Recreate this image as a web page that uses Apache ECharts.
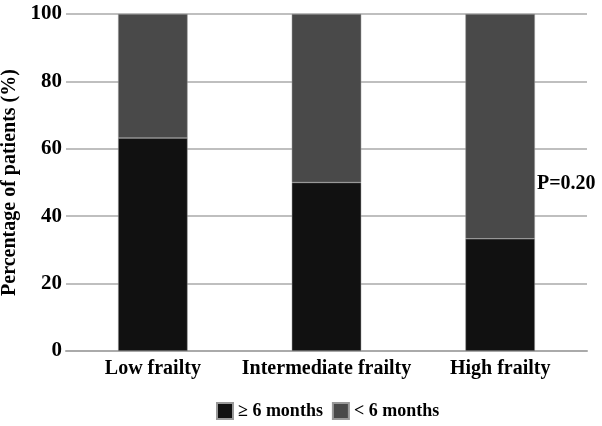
<!DOCTYPE html>
<html>
<head>
<meta charset="utf-8">
<script src="https://cdn.jsdelivr.net/npm/echarts@6/dist/echarts.min.js"></script>
<style>html,body{margin:0;padding:0;background:#fff;}#c{width:602px;height:426px;}</style>
</head>
<body>
<div id="c"></div>
<script>
var categories = ['Low frailty', 'Intermediate frailty', 'High frailty'];
var geSixMonths = [63.2, 50.0, 33.3];
var ltSixMonths = [36.8, 50.0, 66.7];
var yTicks = [0, 20, 40, 60, 80, 100];
var seriesNames = ['\u2265 6 months', '< 6 months'];
var pText = 'P=0.20';

var font = 'Liberation Serif';
var chart = echarts.init(document.getElementById('c'));
chart.setOption({
  animation: false,
  backgroundColor: '#fff',
  grid: {left: 66, right: 15, top: 14, bottom: 75, containLabel: false, outerBoundsMode: 'none'},
  xAxis: {
    type: 'category',
    data: categories,
    axisLine: {show: true, lineStyle: {color: '#aaa', width: 2}},
    axisTick: {show: false},
    axisLabel: {color: '#000', fontFamily: font, fontWeight: 'bold', fontSize: 20, margin: 8, interval: 0}
  },
  yAxis: {
    type: 'value',
    min: yTicks[0], max: yTicks[yTicks.length - 1], interval: 20,
    name: 'Percentage of patients (%)',
    nameLocation: 'middle',
    nameGap: 45,
    nameTextStyle: {color: '#000', fontFamily: font, fontWeight: 'bold', fontSize: 20},
    axisLine: {show: false},
    axisTick: {show: false},
    axisLabel: {color: '#000', fontFamily: font, fontWeight: 'bold', fontSize: 21, margin: 4},
    splitLine: {lineStyle: {color: '#aaa', width: 1.5}}
  },
  legend: {
    bottom: 1,
    left: 211,
    itemWidth: 16, itemHeight: 16, itemGap: 9,
    icon: 'rect',
    textStyle: {color: '#000', fontFamily: font, fontWeight: 'bold', fontSize: 18, padding: [0, 0, 0, 0]},
    data: seriesNames
  },
  series: [
    {name: seriesNames[0], type: 'bar', stack: 's', data: geSixMonths, barWidth: '40%',
     itemStyle: {color: '#111111', borderColor: '#999', borderWidth: 0.5}},
    {name: seriesNames[1], type: 'bar', stack: 's', data: ltSixMonths, barWidth: '40%',
     itemStyle: {color: '#494949', borderColor: '#999', borderWidth: 0.5}}
  ],
  graphic: [{
    type: 'text', left: 537, top: 174,
    style: {text: pText, fill: '#000', font: 'bold 20px "Liberation Serif"'}
  }]
});
</script>
</body>
</html>
